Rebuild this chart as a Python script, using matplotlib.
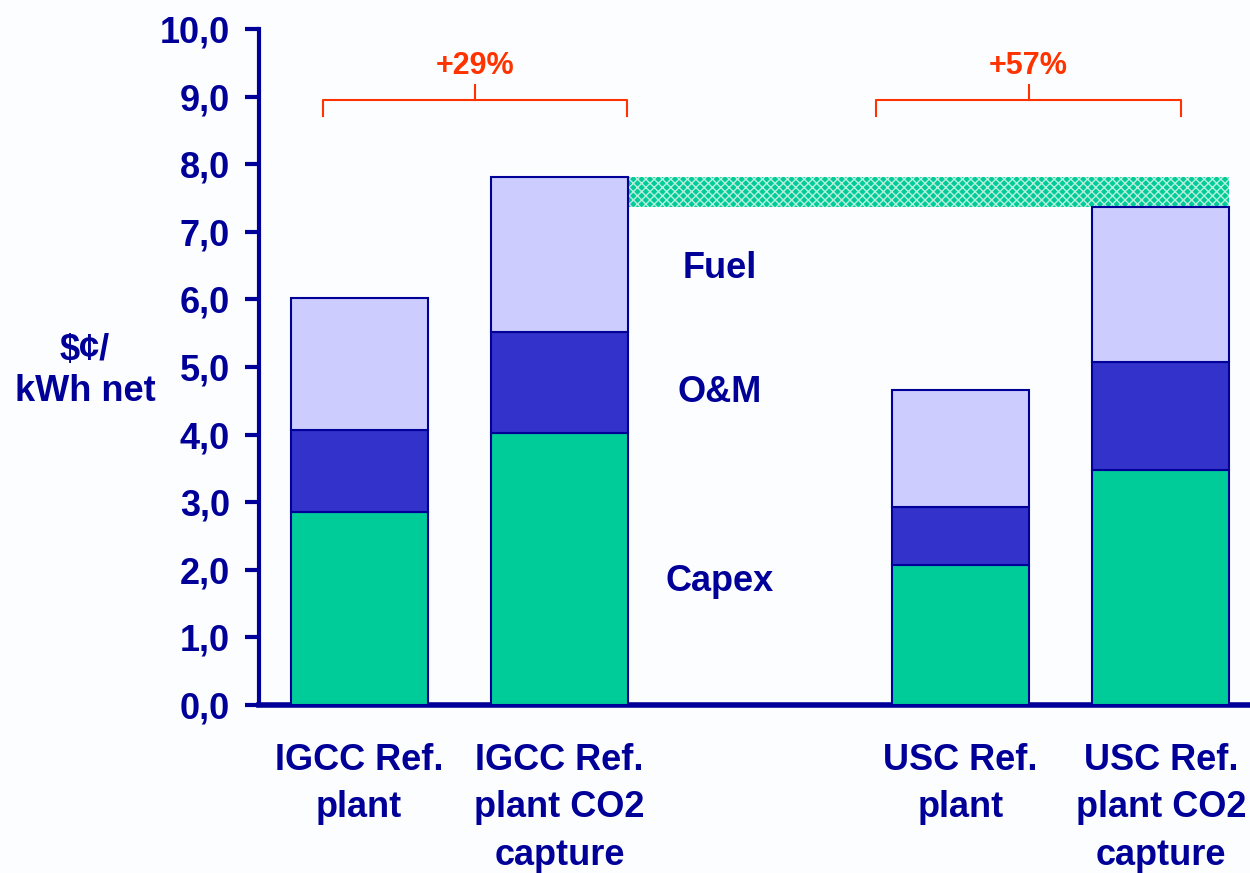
import numpy as np
import matplotlib.pyplot as plt

plt.rcParams['font.family'] = ['Liberation Sans', 'DejaVu Sans']
plt.rcParams['font.weight'] = 'bold'
plt.rcParams['hatch.linewidth'] = 1.0

# cost build-up, $c/kWh net
plants = ["IGCC Ref.\nplant", "IGCC Ref.\nplant CO2\ncapture", "USC Ref.\nplant", "USC Ref.\nplant CO2\ncapture"]
xpos = [0, 1, 3, 4]
capex = [2.86, 4.02, 2.07, 3.48]
om = [1.21, 1.50, 0.86, 1.59]
fuel = [1.95, 2.29, 1.73, 2.30]
increase = ["+29%", "+57%"]

navy = "#000099"
red = "#FF3300"
bg = "#FCFDFF"

capex = np.array(capex)
om = np.array(om)
fuel = np.array(fuel)
total = capex + om + fuel
w = 0.683

fig = plt.figure(figsize=(12.5, 8.73), dpi=100, facecolor=bg)
ax = fig.add_axes([0.2072, 0.1924, 0.7928, 0.7744])
ax.set_facecolor(bg)

ax.bar(xpos, capex, w, color="#00CC99", edgecolor=navy, linewidth=1.5, zorder=3)
ax.bar(xpos, om, w, bottom=capex, color="#3333CC", edgecolor=navy, linewidth=1.5, zorder=3)
ax.bar(xpos, fuel, w, bottom=capex + om, color="#CCCCFF", edgecolor=navy, linewidth=1.5, zorder=3)

# gap between the two capture cases
ax.fill_between([xpos[1] + w / 2, xpos[3] + w / 2], total[3], total[1],
                facecolor="#00CC99", edgecolor="#B8F0DC", hatch="xxxx", linewidth=0, zorder=2)

# brackets with relative increase
for (x0, x1), txt in zip([(-0.18, 1.335), (2.58, 4.10)], increase):
    xm = (x0 + x1) / 2
    ax.plot([x0, x0, x1, x1], [8.71, 8.95, 8.95, 8.71], color=red, lw=1.5, zorder=4, clip_on=False)
    ax.plot([xm, xm], [8.95, 9.17], color=red, lw=1.5, zorder=4, clip_on=False)
    ax.text(xm, 9.45, txt, color=red, fontsize=22, fontweight='bold', ha='center', va='center')

for label, yv in [("Fuel", 6.46), ("O&M", 4.62), ("Capex", 1.83)]:
    ax.text(1.80, yv, label, color=navy, fontsize=26, fontweight='bold', ha='center', va='center')

ax.set_xlim(-0.5, 4.445)
ax.set_ylim(0, 10)
ax.set_yticks(np.arange(0, 10.1, 1))
ax.set_yticklabels(["{:.1f}".format(v).replace(".", ",") for v in np.arange(0, 10.1, 1)])
ax.set_xticks(xpos)
ax.set_xticklabels(plants, linespacing=1.47, va='top')

ax.tick_params(axis='y', length=10, width=3, color=navy, labelcolor=navy, labelsize=26, pad=11)
ax.tick_params(axis='x', length=0, labelcolor=navy, labelsize=26, pad=27)
for lab in ax.get_xticklabels() + ax.get_yticklabels():
    lab.set_fontweight('bold')

for side in ["top", "right"]:
    ax.spines[side].set_visible(False)
ax.spines["left"].set_color(navy)
ax.spines["left"].set_linewidth(3)
ax.spines["bottom"].set_color(navy)
ax.spines["bottom"].set_linewidth(4)

fig.text(85 / 1250, 1 - 371 / 873, "$\u00a2/\nkWh net", color=navy, fontsize=26,
         fontweight='bold', ha='center', va='center', linespacing=1.25)

fig.savefig("out.png", dpi=100, facecolor=bg)
